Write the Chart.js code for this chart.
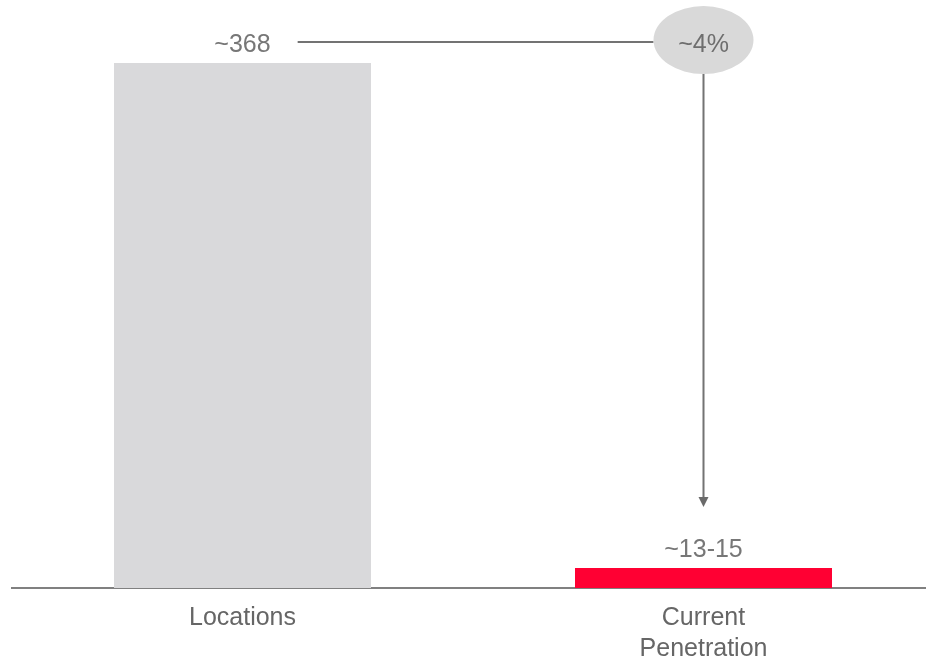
<!DOCTYPE html>
<html lang="en">
<head>
    <meta charset="UTF-8">
    <title>Locations vs Current Penetration</title>
    <script src="https://cdn.jsdelivr.net/npm/chart.js"></script>
    <style>
        html, body { margin: 0; padding: 0; background: #fff; overflow: hidden; }
        #wrap { width: 926px; height: 661px; overflow: hidden; }
    </style>
</head>
<body>
<div id="wrap">
    <canvas id="penChart" width="934" height="661"></canvas>
</div>

<script>
const categories = ['Locations', ['Current', 'Penetration']];
const values = [368, 14];
const valueLabels = ['~368', '~13-15'];
const changeLabel = '~4%';
const barColors = ['#D9D9DB', '#FF0033'];

const FONT = '"Liberation Sans", Arial, sans-serif';

// value labels, connector line, bubble and arrow
const annotations = {
    id: 'annotations',
    afterDatasetsDraw(chart) {
        const ctx = chart.ctx;
        const bars = chart.getDatasetMeta(0).data;
        const a = bars[0], b = bars[1];

        ctx.save();
        ctx.font = '25px ' + FONT;
        ctx.fillStyle = '#777777';
        ctx.textAlign = 'center';
        ctx.textBaseline = 'middle';
        bars.forEach((bar, i) => {
            ctx.fillText(valueLabels[i], bar.x, bar.y - 18);
        });

        const lineY = a.y - 21;
        const textW = ctx.measureText(valueLabels[0]).width;
        const ellY = a.y - 23, rx = 50, ry = 34;

        ctx.strokeStyle = '#737373';
        ctx.lineWidth = 2;
        ctx.beginPath();
        ctx.moveTo(a.x + textW / 2 + 27, lineY);
        ctx.lineTo(b.x - rx, lineY);
        ctx.stroke();

        ctx.fillStyle = '#D9D9D9';
        ctx.beginPath();
        ctx.ellipse(b.x, ellY, rx, ry, 0, 0, Math.PI * 2);
        ctx.fill();

        ctx.fillStyle = '#6E6E6E';
        ctx.fillText(changeLabel, b.x, a.y - 18);

        const tipY = b.y - 61;
        ctx.beginPath();
        ctx.moveTo(b.x, ellY + ry);
        ctx.lineTo(b.x, tipY - 8);
        ctx.stroke();
        ctx.fillStyle = '#6A6A6A';
        ctx.beginPath();
        ctx.moveTo(b.x - 5, tipY - 10);
        ctx.lineTo(b.x + 5, tipY - 10);
        ctx.lineTo(b.x, tipY);
        ctx.closePath();
        ctx.fill();
        ctx.restore();
    }
};

new Chart(document.getElementById('penChart'), {
    type: 'bar',
    data: {
        labels: categories,
        datasets: [{
            data: values,
            backgroundColor: barColors,
            borderWidth: 0,
            barPercentage: 0.5575,
            categoryPercentage: 1
        }]
    },
    options: {
        responsive: false,
        animation: false,
        devicePixelRatio: 1,
        layout: { padding: { top: 17.4, left: 12, right: 0, bottom: 0 } },
        plugins: {
            legend: { display: false },
            tooltip: { enabled: false }
        },
        scales: {
            x: {
                grid: { display: false, drawTicks: false },
                border: { display: true, color: '#808080', width: 2 },
                ticks: {
                    color: '#666666',
                    font: { family: FONT, size: 25, lineHeight: 1.24 },
                    padding: 15,
                    maxRotation: 0
                },
                afterFit(scale) { scale.height = 73; }
            },
            y: {
                display: false,
                min: 0,
                max: 400
            }
        }
    },
    plugins: [annotations]
});
</script>
</body>
</html>
